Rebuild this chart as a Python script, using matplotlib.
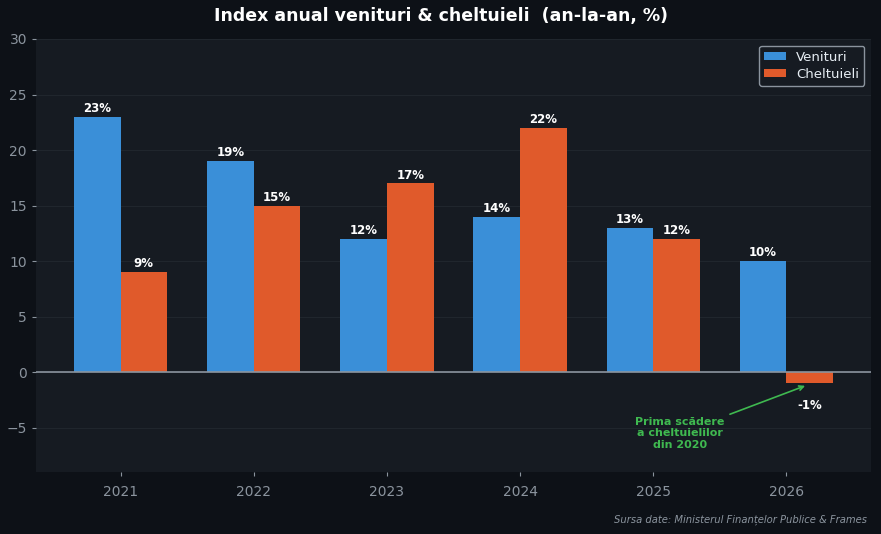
import matplotlib
matplotlib.use("Agg")
import matplotlib.pyplot as plt
import numpy as np

years = ["2021", "2022", "2023", "2024", "2025", "2026"]
venituri = [23, 19, 12, 14, 13, 10]
cheltuieli = [9, 15, 17, 22, 12, -1]

BG = "#0d1117"
AX = "#161b22"
BLUE = "#3a8fd8"
ORANGE = "#e05a2b"
GREY = "#8b949e"

fig = plt.figure(figsize=(8.81, 5.34), dpi=100, facecolor=BG)
ax = fig.add_axes([36/881, 1-472/534, (871-36)/881, (472-39)/534])
ax.set_facecolor(AX)

x = np.arange(len(years))
w = 0.35
b1 = ax.bar(x - w/2, venituri, w, color=BLUE, label="Venituri", zorder=3)
b2 = ax.bar(x + w/2, cheltuieli, w, color=ORANGE, label="Cheltuieli", zorder=3)

for rect, v in zip(list(b1) + list(b2), venituri + cheltuieli):
    cx = rect.get_x() + rect.get_width()/2
    if v >= 0:
        ax.text(cx, v + 0.15, f"{v}%", ha="center", va="bottom", color="white",
                fontsize=8.5, fontweight="bold", zorder=4)
    else:
        ax.text(cx, v - 1.4, f"{v}%", ha="center", va="top", color="white",
                fontsize=8.5, fontweight="bold", zorder=4)

ax.axhline(0, color=GREY, lw=1.2, zorder=4)
ax.set_ylim(-9, 30)
ax.set_yticks([-5, 0, 5, 10, 15, 20, 25, 30])
ax.set_yticklabels(["\u22125", "0", "5", "10", "15", "20", "25", "30"])
ax.set_xticks(x)
ax.set_xticklabels(years)
ax.grid(axis="y", color="#30363d", lw=0.6, alpha=0.5, zorder=0)
for s in ax.spines.values():
    s.set_visible(False)
ax.tick_params(colors=GREY, labelsize=10)
ax.tick_params(axis="x", length=3, pad=6)
ax.tick_params(axis="y", length=3)

ax.annotate("Prima scădere\na cheltuielilor\ndin 2020", xy=(5.16, -1.15), xytext=(4.2, -5.5),
            ha="center", va="center", color="#3fb950", fontsize=8, fontweight="bold",
            arrowprops=dict(arrowstyle="->", color="#3fb950", lw=1.2), zorder=5)

leg = ax.legend(loc="upper right", facecolor=AX, edgecolor=GREY, labelcolor="#e6edf3",
                fontsize=9.5, framealpha=1, handlelength=1.6, handleheight=0.6,
                labelspacing=0.3, borderpad=0.4, borderaxespad=0.5)

fig.suptitle("Index anual venituri & cheltuieli  (an-la-an, %)", color="white",
             fontsize=12.5, fontweight="bold", y=1-16/534, va="center")
fig.text(867/881, 1-520/534, "Sursa date: Ministerul Finanțelor Publice & Frames",
         ha="right", va="center", color=GREY, fontsize=7.2, style="italic")

fig.savefig("out.png", dpi=100, facecolor=BG)
